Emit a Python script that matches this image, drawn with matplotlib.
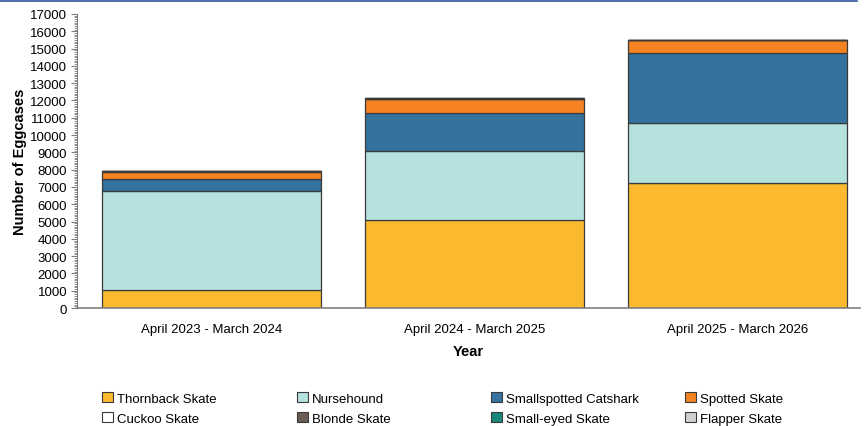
import numpy as np
import matplotlib.pyplot as plt
import matplotlib.patches as mpatches
from matplotlib.ticker import MultipleLocator

plt.rcParams['font.family'] = ['Liberation Sans', 'DejaVu Sans']

# -----------------------------------------------------------------------------
# Data
# -----------------------------------------------------------------------------
years = ["April 2023 - March 2024", "April 2024 - March 2025", "April 2025 - March 2026"]

thornback    = [1050, 5080, 7220]
nursehound   = [5720, 4000, 3470]
smallspotted = [680, 2190, 4060]
spotted      = [440, 830, 720]
cuckoo       = [10, 10, 10]
blonde       = [20, 30, 30]
small_eyed   = [0, 0, 0]
flapper      = [0, 0, 0]

species = ["Thornback Skate", "Nursehound", "Smallspotted Catshark", "Spotted Skate",
           "Cuckoo Skate", "Blonde Skate", "Small-eyed Skate", "Flapper Skate"]
values = [thornback, nursehound, smallspotted, spotted,
          cuckoo, blonde, small_eyed, flapper]
colors = ["#FBB92F", "#B5E2DF", "#35729E", "#F58322",
          "#FFFFFF", "#6B5C55", "#17877B", "#D0D0D0"]

# -----------------------------------------------------------------------------
# Figure
# -----------------------------------------------------------------------------
fig = plt.figure(figsize=(8.67, 4.27), dpi=100)
ax = fig.add_axes([77 / 867, 1 - 309 / 427, 783 / 867, 294 / 427])

x = np.arange(len(years))
bottom = np.zeros(len(years))
for name, vals, col in zip(species, values, colors):
    vals = np.array(vals, dtype=float)
    ax.bar(x, vals, bottom=bottom, width=0.833, color=col,
           edgecolor="#3a3a3a", linewidth=0.9, label=name, zorder=2)
    bottom += vals

ax.set_xlim(-0.511, 2.465)
ax.set_ylim(0, 17000)
ax.yaxis.set_major_locator(MultipleLocator(1000))
ax.yaxis.set_minor_locator(MultipleLocator(100))
ax.set_xticks(x)
ax.set_xticklabels(years, fontsize=9.5)
ax.tick_params(axis="y", labelsize=9.5, length=4, color="#7f7f7f", pad=3)
ax.tick_params(axis="y", which="minor", length=2, color="#7f7f7f")
ax.tick_params(axis="x", length=0, pad=11)

for s in ["top", "right"]:
    ax.spines[s].set_visible(False)
ax.spines["left"].set_color("#7f7f7f")
ax.spines["bottom"].set_color("#7f7f7f")
ax.spines["bottom"].set_linewidth(1.2)

ax.set_ylabel("Number of Eggcases", fontsize=10.5, fontweight="bold", labelpad=2)
ax.set_xlabel("Year", fontsize=10.5, fontweight="bold", labelpad=6)

# top rule
fig.add_artist(plt.Line2D([0, 857 / 867], [1 - 2 / 427, 1 - 2 / 427],
                          color="#2F5597", lw=1.2))

# -----------------------------------------------------------------------------
# Legend: 4 columns of 2 rows, placed at fixed positions
# -----------------------------------------------------------------------------
col_x = [102, 297, 491, 685]
for c in range(4):
    handles = []
    for r in range(2):
        i = c + 4 * r
        handles.append(mpatches.Patch(facecolor=colors[i], edgecolor="#3a3a3a",
                                      linewidth=0.8, label=species[i]))
    fig.legend(handles=handles, loc="upper left",
               bbox_to_anchor=(col_x[c] / 867, 1 - 393 / 427),
               frameon=False, fontsize=9.5, handlelength=0.8, handleheight=0.8,
               handletextpad=0.3, labelspacing=0.55, borderpad=0, borderaxespad=0)

fig.savefig("out.png", dpi=100)
